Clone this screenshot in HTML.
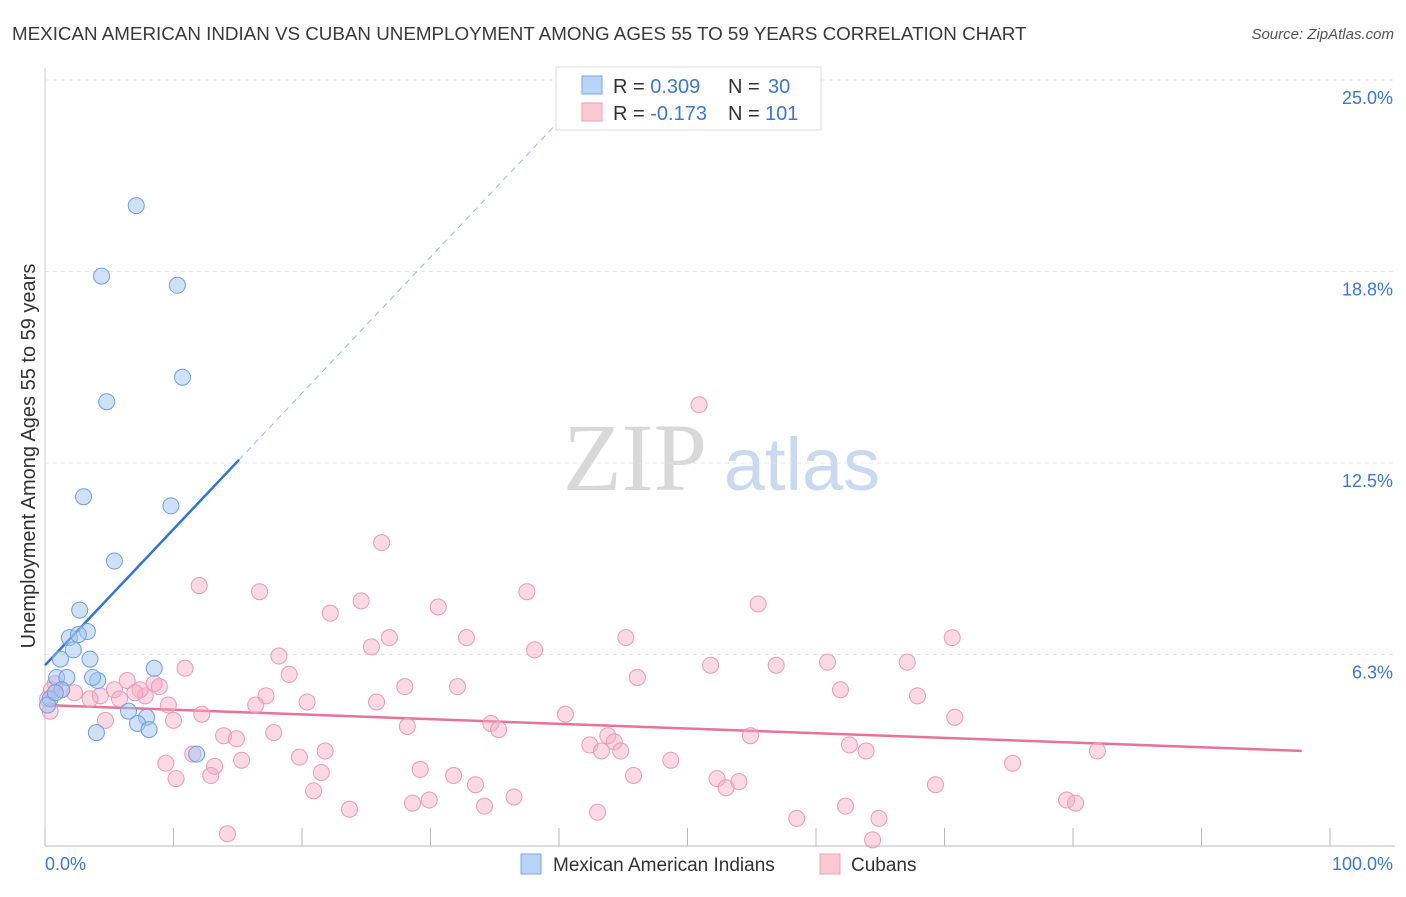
<!DOCTYPE html>
<html><head><meta charset="utf-8"><style>
body{margin:0;background:#fff;font-family:"Liberation Sans",sans-serif}
svg text{font-family:"Liberation Sans",sans-serif}
</style></head><body>
<svg id="chart" width="1406" height="892">
<text x="12" y="40" font-size="18.8" fill="#3a3a3a">MEXICAN AMERICAN INDIAN VS CUBAN UNEMPLOYMENT AMONG AGES 55 TO 59 YEARS CORRELATION CHART</text>
<text x="1394" y="39" font-size="15" fill="#555" text-anchor="end" font-style="italic">Source: ZipAtlas.com</text>
<text x="35" y="456" font-size="20" fill="#333" text-anchor="middle" transform="rotate(-90 35 456)">Unemployment Among Ages 55 to 59 years</text>
<g>
<text x="635" y="490" font-size="96" fill="#d8d8d8" font-family="Liberation Serif" text-anchor="middle" style="font-family:'Liberation Serif',serif">ZIP</text>
<text x="802" y="490" font-size="74" fill="#c9daf0" text-anchor="middle">atlas</text>
</g>
<g id="grid"></g><g id="axes"></g><g id="trends"></g><g id="pts"></g>
<g>
<rect x="556" y="67" width="265" height="63" fill="#fff" stroke="#ddd"/>
<rect x="582" y="76" width="20" height="18" fill="#b8d4f6" stroke="#7aa8e6"/>
<rect x="582" y="103" width="20" height="18" fill="#fbc8d6" stroke="#f0a0b8"/>
<text x="613" y="93" font-size="20" fill="#333">R = <tspan fill="#3a78d8">0.309</tspan><tspan x="728">N = </tspan><tspan fill="#3a78d8" x="768">30</tspan></text>
<text x="613" y="120" font-size="20" fill="#333">R = <tspan fill="#3a78d8">-0.173</tspan><tspan x="728">N = </tspan><tspan fill="#3a78d8" x="765">101</tspan></text>
</g>
<g>
<rect x="521" y="854" width="20" height="20" fill="#b8d4f6" stroke="#7aa8e6"/>
<text x="553" y="871" font-size="19" fill="#333">Mexican American Indians</text>
<rect x="820" y="854" width="20" height="20" fill="#fbc8d6" stroke="#f0a0b8"/>
<text x="851" y="871" font-size="19" fill="#333">Cubans</text>
</g>
</svg>
<script>
const yTicks=[6.25,12.5,18.75,25];
const yTickLabels=["6.3%","12.5%","18.8%","25.0%"];
const xTickLabels=["0.0%","100.0%"];
const blueX=[7.1,4.4,10.3,10.7,4.8,3.0,9.8,5.4,2.7,3.3,1.9,2.6,1.2,2.2,3.5,0.9,1.7,4.1,3.7,8.5,1.3,0.4,0.2,6.5,7.9,7.2,8.1,4.0,11.8,0.8];
const blueY=[20.9,18.6,18.3,15.3,14.5,11.4,11.1,9.3,7.7,7.0,6.8,6.9,6.1,6.4,6.1,5.5,5.5,5.4,5.5,5.8,5.1,4.8,4.6,4.4,4.2,4.0,3.8,3.7,3.0,5.0];
const pinkX=[50.9,26.2,12.0,16.7,37.5,24.6,55.5,30.6,22.2,26.8,32.8,45.2,70.6,25.4,38.1,18.2,10.9,51.8,56.9,60.9,67.1,19.0,46.1,6.4,8.5,8.9,28.0,32.1,61.9,17.2,67.9,7.8,5.4,4.3,3.5,2.3,1.3,0.8,0.2,20.4,25.8,16.4,9.6,12.2,40.5,10.0,70.8,4.7,28.2,34.7,35.3,17.8,13.9,14.9,43.8,54.9,42.4,44.3,43.3,44.8,62.6,63.9,21.8,11.5,15.3,9.4,19.8,48.7,81.9,75.3,29.2,13.2,21.5,45.8,31.8,10.2,12.9,33.5,52.3,54.0,53.0,69.3,20.9,29.9,28.6,36.5,79.5,80.2,23.7,34.2,62.3,43.0,58.5,64.9,14.2,64.4,7.4,5.8,0.4,0.5,7.0];
const pinkY=[14.4,9.9,8.5,8.3,8.3,8.0,7.9,7.8,7.6,6.8,6.8,6.8,6.8,6.5,6.4,6.2,5.8,5.9,5.9,6.0,6.0,5.6,5.5,5.4,5.3,5.2,5.2,5.2,5.1,4.9,4.9,4.9,5.1,4.9,4.8,5.0,5.1,5.3,4.8,4.7,4.7,4.6,4.6,4.3,4.3,4.1,4.2,4.1,3.9,4.0,3.8,3.7,3.6,3.5,3.6,3.6,3.3,3.4,3.1,3.1,3.3,3.1,3.1,3.0,2.8,2.7,2.9,2.8,3.1,2.7,2.5,2.6,2.4,2.3,2.3,2.2,2.3,2.0,2.2,2.1,1.9,2.0,1.8,1.5,1.4,1.6,1.5,1.4,1.2,1.3,1.3,1.1,0.9,0.9,0.4,0.2,5.1,4.8,4.4,5.1,5.0];
const blueTrend=[5.9,0.444];
const pinkTrend=[4.6,-0.0153];
const NS="http://www.w3.org/2000/svg";
const X=v=>45+v*12.85, Y=v=>846-v*30.64;
function mk(t,a,p){const e=document.createElementNS(NS,t);for(const k in a)e.setAttribute(k,a[k]);p.appendChild(e);return e;}
const grid=document.getElementById('grid'),axes=document.getElementById('axes');
yTicks.forEach((v,i)=>{
 const l=mk('line',{x1:45,x2:1395,y1:Y(v),y2:Y(v),stroke:'#e4e4e4','stroke-dasharray':'4,4'},grid);
 
 
 const t=mk('text',{x:1393,y:Y(v)+24,'font-size':18,fill:'#3a78d8','text-anchor':'end'},axes);t.textContent=yTickLabels[i];
 
 
});
mk('line',{x1:45,x2:1395,y1:846,y2:846,stroke:'#bbb'},axes);
mk('line',{x1:45,x2:45,y1:68,y2:846,stroke:'#ccc'},axes);
for(let i=0;i<=10;i++){const tk=mk('line',{x1:X(i*10),x2:X(i*10),y1:828,y2:846,stroke:'#bbb'},axes);
 
 }
let t0=mk('text',{x:45,y:870,'font-size':18,fill:'#3a78d8'},axes);t0.textContent=xTickLabels[0];


let t1=mk('text',{x:1393,y:870,'font-size':18,fill:'#3a78d8','text-anchor':'end'},axes);t1.textContent=xTickLabels[1];


const pts=document.getElementById('pts');
pinkX.forEach((x,i)=>{const c=mk('circle',{cx:X(x),cy:Y(pinkY[i]),r:8,fill:'rgba(245,170,195,0.45)',stroke:'#ec9ab5','stroke-width':1},pts);
 
 });
blueX.forEach((x,i)=>{const c=mk('circle',{cx:X(x),cy:Y(blueY[i]),r:8,fill:'rgba(160,196,240,0.5)',stroke:'#6f9fe0','stroke-width':1},pts);
 
 });
const tr=document.getElementById('trends');
const bx1=15.1,bx2=(25-blueTrend[0])/blueTrend[1];
let b1=mk('line',{x1:X(0),y1:Y(blueTrend[0]),x2:X(bx1),y2:Y(blueTrend[0]+blueTrend[1]*bx1),stroke:'#2f74d8','stroke-width':2.5},tr);


let b2=mk('line',{x1:X(bx1),y1:Y(blueTrend[0]+blueTrend[1]*bx1),x2:X(bx2),y2:Y(25),stroke:'#9ab8e4','stroke-width':1,'stroke-dasharray':'6,5'},tr);


let p1=mk('line',{x1:X(0),y1:Y(pinkTrend[0]),x2:X(97.8),y2:Y(pinkTrend[0]+pinkTrend[1]*97.8),stroke:'#e8729a','stroke-width':2.5},tr);


</script>
</body></html>
